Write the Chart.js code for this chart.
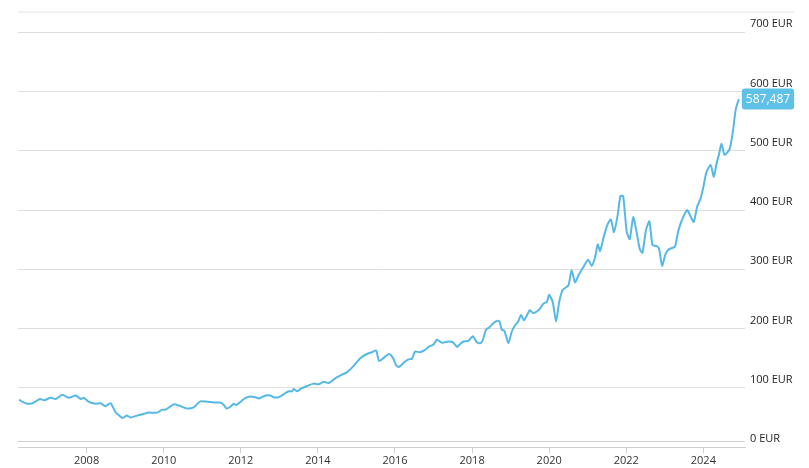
<!DOCTYPE html>
<html><head><meta charset="utf-8">
<script src="https://cdn.jsdelivr.net/npm/chart.js@4"></script>
<style>html,body{margin:0;padding:0;background:#fff}#w{width:809px;height:468px}</style>
</head><body><div id="w"><canvas id="c"></canvas></div>
<script>
const years=[2006.25,2006.34,2006.46,2006.6,2006.68,2006.79,2006.9,2007.07,2007.2,2007.37,2007.54,2007.72,2007.85,2007.93,2008.06,2008.23,2008.36,2008.49,2008.62,2008.75,2008.93,2009.04,2009.14,2009.31,2009.49,2009.57,2009.83,2009.96,2010.05,2010.26,2010.39,2010.61,2010.78,2010.95,2011.21,2011.34,2011.47,2011.56,2011.63,2011.73,2011.82,2011.89,2012.08,2012.21,2012.38,2012.47,2012.64,2012.77,2012.85,2012.98,2013.11,2013.24,2013.33,2013.37,2013.46,2013.55,2013.72,2013.89,2014.02,2014.15,2014.28,2014.45,2014.62,2014.75,2014.93,2015.1,2015.27,2015.4,2015.51,2015.59,2015.75,2015.85,2015.95,2016.03,2016.1,2016.24,2016.35,2016.44,2016.52,2016.65,2016.78,2016.87,2017.0,2017.09,2017.22,2017.39,2017.5,2017.61,2017.69,2017.78,2017.9,2018.02,2018.12,2018.21,2018.28,2018.36,2018.45,2018.55,2018.66,2018.71,2018.77,2018.84,2018.94,2019.03,2019.12,2019.2,2019.27,2019.35,2019.5,2019.59,2019.74,2019.85,2019.94,2020.0,2020.09,2020.18,2020.26,2020.35,2020.5,2020.58,2020.67,2020.76,2020.88,2021.01,2021.1,2021.19,2021.26,2021.32,2021.42,2021.51,2021.6,2021.68,2021.77,2021.85,2021.92,2022.01,2022.09,2022.18,2022.27,2022.35,2022.42,2022.51,2022.6,2022.68,2022.79,2022.85,2022.93,2023.02,2023.11,2023.26,2023.34,2023.43,2023.58,2023.67,2023.75,2023.84,2023.93,2024.0,2024.08,2024.19,2024.27,2024.34,2024.41,2024.47,2024.55,2024.68,2024.76,2024.84,2024.92];
const values=[80,76,73,74,77,81,79,83,81,88,83,87,81,83,76,73,74,69,74,59,49,53,50,53,56,58,58,63,63,72,70,65,67,77,76,75,75,71,65,68,73,71,81,85,84,82,87,87,84,84,89,94,94,98,94,98,103,107,106,110,108,116,122,126,137,150,157,160,163,145,153,157,150,138,135,143,148,149,161,160,164,169,173,181,176,178,177,169,174,178,179,187,177,175,181,198,202,209,213,212,198,196,175,195,206,212,223,214,231,226,232,242,245,257,245,212,245,265,273,298,278,290,303,316,306,320,342,331,356,375,384,363,389,424,423,364,351,388,362,334,328,366,381,341,339,335,306,326,334,338,362,381,400,389,380,406,420,439,464,476,456,478,495,512,493,503,530,570,587.487];
const yTicks=[0,100,200,300,400,500,600,700];
const xTicks=[2008,2010,2012,2014,2016,2018,2020,2022,2024];
const lastLabel="587,487";
const FONT='"Open Sans", sans-serif';
const extra={id:'extra',afterDraw(ch){
  const c=ch.ctx,a=ch.chartArea,y=ch.scales.y,x=ch.scales.x;
  c.save();c.strokeStyle='#e2e2e2';c.lineWidth=1;
  c.beginPath();c.moveTo(a.left,a.top+0.5);c.lineTo(795,a.top+0.5);c.stroke();
  c.strokeStyle='#cfcfcf';c.beginPath();c.moveTo(a.left,a.bottom-5.5);c.lineTo(a.right,a.bottom-5.5);c.stroke();
  const px=x.getPixelForValue(years[years.length-1]),py=y.getPixelForValue(values[values.length-1]);
  c.font='12px '+FONT;const tw=c.measureText(lastLabel).width;
  const bx=px+3,bw=tw+8,bh=21,by=py-bh/2;
  c.fillStyle='#5ec1e8';c.beginPath();c.roundRect(bx,by,bw,bh,3);c.fill();
  c.fillStyle='#fff';c.textBaseline='middle';c.textAlign='left';c.fillText(lastLabel,bx+4,py+1);
  c.restore();}};
new Chart(document.getElementById('c'),{type:'line',
 data:{datasets:[{data:years.map((v,i)=>({x:v,y:values[i]})),borderColor:'#55b8e6',borderWidth:2,pointRadius:0,tension:0.2,fill:false}]},
 options:{responsive:true,maintainAspectRatio:false,animation:false,
  layout:{padding:{left:18,top:6,right:0,bottom:0}},
  plugins:{legend:{display:false},tooltip:{enabled:false}},
  scales:{
   x:{type:'linear',min:2006.22,max:2025.08,
     afterBuildTicks(s){s.ticks=xTicks.map(v=>({value:v}));},
     afterFit(s){s.height=21;},
     grid:{drawOnChartArea:false,color:'#cfcfcf',tickLength:6},border:{color:'#cfcfcf'},
     ticks:{color:'#333',font:{family:FONT,size:11},padding:1,maxRotation:0,callback:v=>String(v)}},
   y:{position:'right',min:0,max:735,
     afterBuildTicks(s){s.ticks=yTicks.map(v=>({value:v}));},
     afterFit(s){s.width=64;},
     grid:{color:'#dedede',drawTicks:false},border:{display:false},
     ticks:{color:'#222',font:{family:FONT,size:11},padding:5,labelOffset:-8,callback:v=>v+' EUR'}}
  }},plugins:[extra]});
</script></body></html>
